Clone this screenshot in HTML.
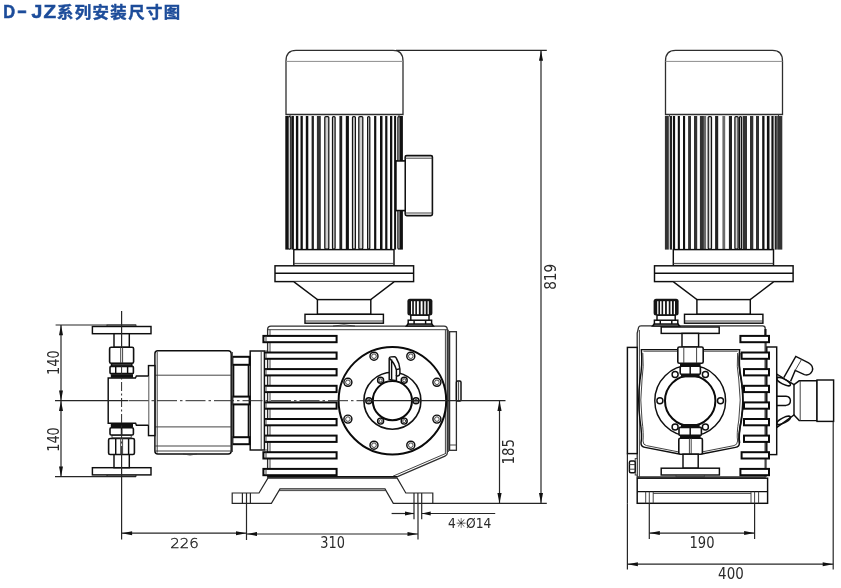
<!DOCTYPE html>
<html lang="zh"><head><meta charset="utf-8"><title>D-JZ系列安装尺寸图</title>
<style>
html,body{margin:0;padding:0;background:#fff;}
body{width:841px;height:588px;overflow:hidden;position:relative;}
svg{position:absolute;left:0;top:0;display:block;}
.t{fill:none;stroke:#0e0e0e;stroke-width:1.45;}
.h{fill:none;stroke:#3a3a3a;stroke-width:0.95;}
.k{fill:none;stroke:#0a0a0a;stroke-width:2;}
.cap{fill:none;stroke:#2e2e2e;stroke-width:1.3;}
.g{fill:none;stroke:#8c8c8c;stroke-width:1;}
.m{fill:none;stroke:#111;stroke-width:1.6;}
.w{fill:#fff;}
.b{fill:#111;stroke:none;}
.d{fill:none;stroke:#262626;stroke-width:1.2;}
.c{fill:none;stroke:#2b2b2b;stroke-width:1;stroke-dasharray:20 3 2.5 3;}
.a{fill:#111;stroke:none;}
.n{font-family:"DejaVu Sans Condensed","DejaVu Sans","Liberation Sans",sans-serif;font-size:15.2px;fill:#2a2a2a;text-anchor:middle;}
.n2{font-family:"DejaVu Sans","Liberation Sans",sans-serif;font-size:14.6px;fill:#2a2a2a;text-anchor:middle;font-weight:200;fill:#1a1a1a;stroke:#1a1a1a;stroke-width:0.35;}
.ti{font-family:"Liberation Sans","Noto Sans CJK SC",sans-serif;font-weight:bold;font-size:16px;fill:#1c4c9a;}
</style></head><body>
<svg width="841" height="588" viewBox="0 0 841 588" style="will-change:transform">
<rect x="0" y="0" width="841" height="588" fill="#fff"/>
<text class="ti" y="18.4" style="stroke:#1c4c9a;stroke-width:0.55px"><tspan x="3.2" style="font-size:18.2px" textLength="11.8" lengthAdjust="spacingAndGlyphs">D</tspan><tspan x="17" y="17.3" style="font-size:18.2px" textLength="10" lengthAdjust="spacingAndGlyphs">-</tspan><tspan x="31.4" y="18.4" style="font-size:18.2px" textLength="10.8" lengthAdjust="spacingAndGlyphs">J</tspan><tspan x="43.6" style="font-size:18.2px" textLength="12.6" lengthAdjust="spacingAndGlyphs">Z</tspan><tspan x="57" y="17.9" style="font-size:16.4px;letter-spacing:1.4px;stroke:#1c4c9a;stroke-width:0.45px">系列安装尺寸图</tspan></text>
<g id="front">
<rect class="t w" x="396.0" y="161.0" width="9.2" height="49.5" />
<rect class="m w" x="405.2" y="155.6" width="27.2" height="60.0" rx="1.5"/>
<line class="h" x1="405.2" y1="158.2" x2="432.4" y2="158.2"/>
<line class="h" x1="405.2" y1="213.0" x2="432.4" y2="213.0"/>
<g transform="translate(0,0)">
<path class="cap w" d="M286,114.5 V61 C286,54.5 289.5,50.4 296,50.4 H393 C399.5,50.4 403,54.5 403,61 V114.5 Z"/>
<line class="g" x1="286.0" y1="61.4" x2="403.0" y2="61.4"/>
<line class="h" x1="290.0" y1="114.5" x2="290.0" y2="116.5"/>
<line class="h" x1="399.0" y1="114.5" x2="399.0" y2="116.5"/>
<rect x="285.3" y="116" width="2.8" height="133.6" fill="#111"/>
<rect x="288.0" y="116.5" width="2.8" height="132.6" rx="1" fill="#cfcfcf" stroke="#141414" stroke-width="1.25"/>
<rect x="291.4" y="116" width="2.5" height="133.6" fill="#111"/>
<rect x="295.9" y="116" width="2.4" height="133.6" fill="#111"/>
<rect x="300.5" y="116" width="2.3" height="133.6" fill="#111"/>
<rect x="305.8" y="116" width="2.5" height="133.6" fill="#111"/>
<rect x="311.6" y="116" width="2.3" height="133.6" fill="#222"/>
<rect x="316.9" y="116" width="3.9" height="133.6" fill="#333"/>
<rect x="324.8" y="116.5" width="4.0" height="132.6" rx="1" fill="#cfcfcf" stroke="#141414" stroke-width="1.25"/>
<rect x="332.5" y="116.5" width="2.6" height="132.6" rx="1" fill="#cfcfcf" stroke="#141414" stroke-width="1.25"/>
<rect x="339.4" y="116" width="2.8" height="133.6" fill="#222"/>
<rect x="345.8" y="116" width="3.1" height="133.6" fill="#111"/>
<rect x="352.5" y="116.5" width="2.9" height="132.6" rx="1" fill="#cfcfcf" stroke="#141414" stroke-width="1.25"/>
<rect x="358.8" y="116.5" width="4.0" height="132.6" rx="1" fill="#cfcfcf" stroke="#141414" stroke-width="1.25"/>
<rect x="367.6" y="116.5" width="2.2" height="132.6" rx="1" fill="#cfcfcf" stroke="#141414" stroke-width="1.25"/>
<rect x="374.1" y="116" width="2.2" height="133.6" fill="#111"/>
<rect x="380.0" y="116" width="2.5" height="133.6" fill="#111"/>
<rect x="385.2" y="116" width="2.2" height="133.6" fill="#111"/>
<rect x="390.0" y="116" width="2.3" height="133.6" fill="#111"/>
<rect x="394.1" y="116" width="2.0" height="133.6" fill="#111"/>
<rect x="397.9" y="116.5" width="2.2" height="132.6" rx="1" fill="#cfcfcf" stroke="#141414" stroke-width="1.25"/>
<rect x="400.0" y="116" width="2.9" height="133.6" fill="#111"/>
<rect class="t w" x="293.8" y="249.6" width="100.2" height="16.0" />
<line class="h" x1="293.8" y1="263.4" x2="394.0" y2="263.4"/>
<rect class="t w" x="275.0" y="265.8" width="138.6" height="15.8" />
<line class="t" x1="275.0" y1="273.2" x2="413.6" y2="273.2"/>
<path class="t w" d="M294,281.8 L317.4,299.6 H370.8 L394,281.8"/>
<rect class="t w" x="317.4" y="299.6" width="53.4" height="14.7" />
<rect class="t w" x="305.0" y="314.3" width="78.4" height="8.9" />
<line class="h" x1="305.0" y1="321.0" x2="383.4" y2="321.0"/>
</g>
<rect class="t w" x="396.0" y="161.0" width="9.2" height="49.5" />
<path class="cap w" d="M267.6,477 V329.5 Q267.6,326.2 271,326.2 H444 Q447.3,326.2 447.3,329.5 V453 Q447.3,455.3 445,456.2 L397,476.8 Z"/>
<line class="h" x1="268.0" y1="329.7" x2="447.3" y2="329.7"/>
<line class="h" x1="270.0" y1="329.7" x2="270.0" y2="477.0"/>
<line class="h" x1="445.4" y1="329.7" x2="445.4" y2="454.0"/>
<path class="h" d="M445.4,453.6 L393,476.2"/>
<line class="m" x1="267.6" y1="476.8" x2="397.0" y2="476.8"/>
<path class="h" d="M333,326 Q344,323.8 355,326"/>
<rect class="cap w" x="449.6" y="331.7" width="6.8" height="118.6" />
<line class="h" x1="449.6" y1="445.0" x2="456.4" y2="445.0"/>
<line class="h" x1="448.4" y1="329.7" x2="448.4" y2="452.0"/>
<rect class="t w" x="456.4" y="381.0" width="4.6" height="20.0" rx="1.2"/>
<line class="h" x1="458.6" y1="381.0" x2="458.6" y2="401.0"/>
<rect class="k w" x="263.4" y="335.9" width="73.2" height="6.3" />
<line class="h" x1="266.0" y1="335.9" x2="266.0" y2="342.2"/>
<rect class="k w" x="263.4" y="352.5" width="73.2" height="6.3" />
<line class="h" x1="266.0" y1="352.5" x2="266.0" y2="358.8"/>
<rect class="k w" x="263.4" y="369.1" width="73.2" height="6.3" />
<line class="h" x1="266.0" y1="369.1" x2="266.0" y2="375.4"/>
<rect class="k w" x="263.4" y="385.8" width="73.2" height="6.3" />
<line class="h" x1="266.0" y1="385.8" x2="266.0" y2="392.1"/>
<rect class="k w" x="263.4" y="402.4" width="73.2" height="6.3" />
<line class="h" x1="266.0" y1="402.4" x2="266.0" y2="408.7"/>
<rect class="k w" x="263.4" y="419.0" width="73.2" height="6.3" />
<line class="h" x1="266.0" y1="419.0" x2="266.0" y2="425.3"/>
<rect class="k w" x="263.4" y="435.6" width="73.2" height="6.3" />
<line class="h" x1="266.0" y1="435.6" x2="266.0" y2="441.9"/>
<rect class="k w" x="263.4" y="452.2" width="73.2" height="6.3" />
<line class="h" x1="266.0" y1="452.2" x2="266.0" y2="458.5"/>
<rect class="k w" x="263.4" y="468.9" width="73.2" height="6.3" />
<line class="h" x1="266.0" y1="468.9" x2="266.0" y2="475.2"/>
<circle class="k w" cx="392.4" cy="400.7" r="53.8"/>
<circle class="m" cx="392.4" cy="400.7" r="28.5"/>
<circle class="k" cx="392.4" cy="400.7" r="19.6"/>
<circle class="t" cx="436.9" cy="419.1" r="4.0"/>
<circle class="h" cx="436.9" cy="419.1" r="2.3"/>
<circle class="t" cx="410.8" cy="445.2" r="4.0"/>
<circle class="h" cx="410.8" cy="445.2" r="2.3"/>
<circle class="t" cx="374.0" cy="445.2" r="4.0"/>
<circle class="h" cx="374.0" cy="445.2" r="2.3"/>
<circle class="t" cx="347.9" cy="419.1" r="4.0"/>
<circle class="h" cx="347.9" cy="419.1" r="2.3"/>
<circle class="t" cx="347.9" cy="382.3" r="4.0"/>
<circle class="h" cx="347.9" cy="382.3" r="2.3"/>
<circle class="t" cx="374.0" cy="356.2" r="4.0"/>
<circle class="h" cx="374.0" cy="356.2" r="2.3"/>
<circle class="t" cx="410.8" cy="356.2" r="4.0"/>
<circle class="h" cx="410.8" cy="356.2" r="2.3"/>
<circle class="t" cx="436.9" cy="382.3" r="4.0"/>
<circle class="h" cx="436.9" cy="382.3" r="2.3"/>
<circle class="t" cx="416.0" cy="400.7" r="3.0"/>
<circle class="h" cx="416.0" cy="400.7" r="1.5"/>
<circle class="t" cx="404.2" cy="421.1" r="3.0"/>
<circle class="h" cx="404.2" cy="421.1" r="1.5"/>
<circle class="t" cx="380.6" cy="421.1" r="3.0"/>
<circle class="h" cx="380.6" cy="421.1" r="1.5"/>
<circle class="t" cx="368.8" cy="400.7" r="3.0"/>
<circle class="h" cx="368.8" cy="400.7" r="1.5"/>
<circle class="t" cx="380.6" cy="380.3" r="3.0"/>
<circle class="h" cx="380.6" cy="380.3" r="1.5"/>
<circle class="t" cx="404.2" cy="380.3" r="3.0"/>
<circle class="h" cx="404.2" cy="380.3" r="1.5"/>
<path class="t w" d="M389.2,379.4 V358.4 Q389.4,357 391,356.9 L394.6,356.8 Q395.6,356.9 396.2,358 Q399.6,363.5 399.9,369 V373.6 Q399.6,375.8 397.6,376 L396.4,375.8 V380.6 L389.2,379.4 Z"/>
<path class="t" d="M391.6,359.5 V379.6 M389.8,358.6 Q394.6,363 396.4,370 V375.8 M396.4,369.6 L399.8,368.8"/>
<path class="t w" d="M406.4,326 L408.2,323.8 H431.6 L433.4,326 Z"/>
<rect class="t w" x="408.2" y="320.2" width="23.4" height="3.8" />
<line class="t" x1="414.1" y1="320.2" x2="414.1" y2="324.0"/>
<line class="t" x1="425.6" y1="320.2" x2="425.6" y2="324.0"/>
<rect class="t w" x="410.8" y="315.2" width="18.2" height="5.0" />
<rect x="407.4" y="298.8" width="25" height="16.6" rx="2.5" fill="#151515"/>
<rect x="411.00" y="301.2" width="1.2" height="13" fill="#fff"/>
<rect x="413.85" y="301.2" width="1.5" height="13" fill="#fff"/>
<rect x="416.95" y="301.2" width="1.9" height="13" fill="#fff"/>
<rect x="420.65" y="301.2" width="1.9" height="13" fill="#fff"/>
<rect x="424.25" y="301.2" width="1.5" height="13" fill="#fff"/>
<rect x="427.60" y="301.2" width="1.2" height="13" fill="#fff"/>
<path class="d w" d="M232.2,493 H259 L267.9,478.2 H397.2 L405.8,493 H432.8 V503.3 H393.3 L385,488.9 H280 L271.4,503.3 H232.2 Z"/>
<path class="h" d="M279,490.6 H386"/>
<line class="d" x1="242.4" y1="493.0" x2="242.4" y2="503.3"/>
<line class="d" x1="246.5" y1="493.0" x2="246.5" y2="503.3"/>
<line class="d" x1="250.4" y1="493.0" x2="250.4" y2="503.3"/>
<line class="d" x1="414.0" y1="493.0" x2="414.0" y2="503.3"/>
<line class="d" x1="417.9" y1="493.0" x2="417.9" y2="503.3"/>
<line class="d" x1="421.7" y1="493.0" x2="421.7" y2="503.3"/>
<rect class="t w" x="250.2" y="351.0" width="14.2" height="99.0" />
<line class="h" x1="261.2" y1="351.0" x2="261.2" y2="450.0"/>
<line class="h" x1="264.4" y1="351.0" x2="267.6" y2="351.0"/>
<line class="h" x1="264.4" y1="450.0" x2="267.6" y2="450.0"/>
<rect class="k w" x="232.4" y="356.8" width="17.2" height="8.0" />
<rect class="k w" x="232.4" y="437.2" width="17.2" height="7.0" />
<line class="t" x1="233.6" y1="364.8" x2="233.6" y2="437.2"/>
<line class="t" x1="248.4" y1="364.8" x2="248.4" y2="437.2"/>
<rect class="k w" x="232.4" y="396.6" width="17.2" height="7.8" />
<rect class="t w" x="154.9" y="350.7" width="76.3" height="103.3" rx="3"/>
<line class="h" x1="157.2" y1="352.0" x2="157.2" y2="452.6"/>
<line class="h" x1="232.4" y1="352.0" x2="232.4" y2="452.0"/>
<line class="h" x1="154.9" y1="375.2" x2="231.2" y2="375.2"/>
<line class="h" x1="154.9" y1="426.9" x2="231.2" y2="426.9"/>
<line class="h" x1="154.9" y1="446.0" x2="231.2" y2="446.0"/>
<line class="h" x1="154.9" y1="451.0" x2="231.2" y2="451.0"/>
<path class="h" d="M183,454 Q190,456 197,454"/>
<rect class="t w" x="148.5" y="365.6" width="6.4" height="70.0" />
<path class="t w" d="M148.5,375.9 H136.4 L135.4,378 H108.2 V423.3 H135.6 L136.4,425.3 H148.5"/>
<rect class="h w" x="107.0" y="325.0" width="29.0" height="1.6" />
<rect class="t w" x="92.4" y="326.5" width="58.6" height="7.2" />
<rect class="t w" x="114.0" y="333.7" width="15.3" height="13.6" />
<rect class="m w" x="109.6" y="347.3" width="24.0" height="16.0" rx="1.5"/>
<line class="h" x1="120.7" y1="347.3" x2="120.7" y2="363.3"/>
<line class="h" x1="122.6" y1="347.3" x2="122.6" y2="363.3"/>
<rect class="t" x="111.5" y="363.6" width="20.3" height="2.6" />
<line class="t" x1="111.5" y1="365.0" x2="131.8" y2="365.0"/>
<rect class="m w" x="110.0" y="366.4" width="23.4" height="7.2" rx="1.2"/>
<line class="t" x1="115.7" y1="366.4" x2="115.7" y2="373.6"/>
<line class="t" x1="127.6" y1="366.4" x2="127.6" y2="373.6"/>
<rect class="b" x="110.8" y="374.2" width="22.2" height="3.6" />
<rect class="h w" x="107.0" y="474.8" width="29.0" height="1.6" />
<rect class="t w" x="92.4" y="467.7" width="58.6" height="7.2" />
<rect class="t w" x="114.0" y="454.1" width="15.3" height="13.6" />
<rect class="m w" x="108.6" y="438.5" width="25.8" height="16.0" rx="1.5"/>
<line class="t" x1="115.7" y1="454.1" x2="115.7" y2="438.1"/>
<line class="t" x1="128.6" y1="454.1" x2="128.6" y2="438.1"/>
<line class="h" x1="120.7" y1="454.1" x2="120.7" y2="438.1"/>
<line class="h" x1="122.6" y1="454.1" x2="122.6" y2="438.1"/>
<rect class="h" x="112.0" y="435.2" width="19.2" height="2.6" />
<rect class="m w" x="110.0" y="427.8" width="23.4" height="7.2" rx="1.2"/>
<line class="m" x1="121.6" y1="435.0" x2="121.6" y2="427.8"/>
<rect class="b" x="110.8" y="423.6" width="22.2" height="3.6" />
</g>
<g id="dimsF">
<line class="d" x1="121.6" y1="311.0" x2="121.6" y2="347.0"/>
<line class="c" style="stroke-dasharray:9 2.5 2 2.5" x1="121.6" y1="366" x2="121.6" y2="455"/>
<line class="d" x1="121.6" y1="455.0" x2="121.6" y2="539.4"/>
<line class="d" x1="55.0" y1="400.7" x2="128.0" y2="400.7"/>
<line class="c" x1="128.5" y1="400.7" x2="368" y2="400.7"/>
<line class="d" x1="368.0" y1="400.7" x2="505.5" y2="400.7"/>
<line class="d" x1="55.6" y1="325.0" x2="136.0" y2="325.0"/>
<line class="d" x1="55.0" y1="476.7" x2="136.0" y2="476.7"/>
<line class="d" x1="61.0" y1="325.0" x2="61.0" y2="476.7"/>
<polygon class="a" points="61.0,325.0 59.0,335.3 63.0,335.3"/>
<polygon class="a" points="61.0,400.7 59.0,390.4 63.0,390.4"/>
<polygon class="a" points="61.0,400.7 59.0,411.0 63.0,411.0"/>
<polygon class="a" points="61.0,476.7 59.0,466.4 63.0,466.4"/>
<text class="n" transform="translate(58.5,362.6) rotate(-90)" textLength="24.6" lengthAdjust="spacingAndGlyphs">140</text>
<text class="n" transform="translate(58.5,439.5) rotate(-90)" textLength="24.6" lengthAdjust="spacingAndGlyphs">140</text>
<line class="d" x1="246.5" y1="503.3" x2="246.5" y2="540.0"/>
<line class="d" x1="121.6" y1="533.2" x2="246.5" y2="533.2"/>
<polygon class="a" points="121.8,533.2 132.1,531.2 132.1,535.2"/>
<polygon class="a" points="246.3,533.2 236.0,531.2 236.0,535.2"/>
<text class="n2" x="184.5" y="547.6" textLength="28.6" lengthAdjust="spacingAndGlyphs">226</text>
<line class="d" x1="418.0" y1="503.3" x2="418.0" y2="539.4"/>
<line class="d" x1="246.5" y1="534.0" x2="418.0" y2="534.0"/>
<polygon class="a" points="246.7,534.0 257.0,532.0 257.0,536.0"/>
<polygon class="a" points="417.8,534.0 407.5,532.0 407.5,536.0"/>
<text class="n" x="332.6" y="548.4" textLength="24.6" lengthAdjust="spacingAndGlyphs">310</text>
<line class="d" x1="414.0" y1="503.3" x2="414.0" y2="519.3"/>
<line class="d" x1="421.7" y1="503.3" x2="421.7" y2="519.3"/>
<line class="d" x1="391.6" y1="513.5" x2="414.0" y2="513.5"/>
<line class="d" x1="421.7" y1="513.5" x2="495.2" y2="513.5"/>
<polygon class="a" points="414.0,513.5 405.0,511.6 405.0,515.4"/>
<polygon class="a" points="421.7,513.5 430.7,511.6 430.7,515.4"/>
<text class="n" x="469.7" y="527.8" style="font-size:13.6px" textLength="43.4" lengthAdjust="spacingAndGlyphs">4✳Ø14</text>
<line class="d" x1="432.8" y1="503.3" x2="546.8" y2="503.3"/>
<line class="d" x1="499.5" y1="400.7" x2="499.5" y2="503.3"/>
<polygon class="a" points="499.5,400.7 497.4,411.0 501.6,411.0"/>
<polygon class="a" points="499.5,503.3 497.4,493.0 501.6,493.0"/>
<text class="n" transform="translate(514.4,451.7) rotate(-90)" textLength="25.6" lengthAdjust="spacingAndGlyphs">185</text>
<line class="d" x1="396.0" y1="50.4" x2="546.8" y2="50.4"/>
<line class="d" x1="541.0" y1="50.4" x2="541.0" y2="503.3"/>
<polygon class="a" points="541.0,50.4 539.0,60.7 543.0,60.7"/>
<polygon class="a" points="541.0,503.3 539.0,493.0 543.0,493.0"/>
<text class="n" transform="translate(555.7,276.8) rotate(-90)" textLength="26" lengthAdjust="spacingAndGlyphs">819</text>
</g>
<g id="side">
<g transform="translate(379.5,0)">
<path class="cap w" d="M286,114.5 V61 C286,54.5 289.5,50.4 296,50.4 H393 C399.5,50.4 403,54.5 403,61 V114.5 Z"/>
<line class="g" x1="286.0" y1="61.4" x2="403.0" y2="61.4"/>
<line class="h" x1="290.0" y1="114.5" x2="290.0" y2="116.5"/>
<line class="h" x1="399.0" y1="114.5" x2="399.0" y2="116.5"/>
<rect x="285.4" y="116" width="3.9" height="133.6" fill="#333"/>
<rect x="290.2" y="116" width="2.4" height="133.6" fill="#222"/>
<rect x="293.5" y="116" width="2.1" height="133.6" fill="#111"/>
<rect x="298.3" y="116" width="2.1" height="133.6" fill="#111"/>
<rect x="303.5" y="116" width="2.1" height="133.6" fill="#111"/>
<rect x="308.6" y="116" width="2.9" height="133.6" fill="#333"/>
<rect x="314.5" y="116" width="3.2" height="133.6" fill="#333"/>
<rect x="320.4" y="116" width="4.3" height="133.6" fill="#333"/>
<rect x="324.1" y="116" width="2.5" height="133.6" fill="#6a6a6a"/>
<rect x="328.7" y="116.5" width="3.3" height="132.6" rx="1" fill="#cfcfcf" stroke="#141414" stroke-width="1.25"/>
<rect x="335.6" y="116" width="3.1" height="133.6" fill="#222"/>
<rect x="342.9" y="116" width="2.8" height="133.6" fill="#6a6a6a"/>
<rect x="349.4" y="116" width="3.1" height="133.6" fill="#222"/>
<rect x="355.4" y="116.5" width="3.2" height="132.6" rx="1" fill="#cfcfcf" stroke="#141414" stroke-width="1.25"/>
<rect x="359.9" y="116.5" width="2.1" height="132.6" rx="1" fill="#cfcfcf" stroke="#141414" stroke-width="1.25"/>
<rect x="363.2" y="116" width="4.3" height="133.6" fill="#333"/>
<rect x="370.5" y="116" width="3.3" height="133.6" fill="#333"/>
<rect x="376.5" y="116" width="3.0" height="133.6" fill="#333"/>
<rect x="382.7" y="116" width="2.3" height="133.6" fill="#111"/>
<rect x="387.4" y="116" width="2.6" height="133.6" fill="#111"/>
<rect x="391.9" y="116" width="2.2" height="133.6" fill="#111"/>
<rect x="395.2" y="116" width="2.1" height="133.6" fill="#222"/>
<rect x="397.7" y="116" width="5.1" height="133.6" fill="#333"/>
<rect class="t w" x="293.8" y="249.6" width="100.2" height="16.0" />
<line class="h" x1="293.8" y1="263.4" x2="394.0" y2="263.4"/>
<rect class="t w" x="275.0" y="265.8" width="138.6" height="15.8" />
<line class="t" x1="275.0" y1="273.2" x2="413.6" y2="273.2"/>
<path class="t w" d="M294,281.8 L317.4,299.6 H370.8 L394,281.8"/>
<rect class="t w" x="317.4" y="299.6" width="53.4" height="14.7" />
<rect class="t w" x="305.0" y="314.3" width="78.4" height="8.9" />
<line class="h" x1="305.0" y1="321.0" x2="383.4" y2="321.0"/>
</g>
<path class="t w" d="M776.7,374 L794,384.6 L799.2,380.8 H817 V420.6 H799.2 L794,415 L776.7,427.6 Z"/>
<line class="h" x1="800.2" y1="380.8" x2="800.2" y2="420.6"/>
<line class="t" x1="794.0" y1="384.6" x2="794.0" y2="415.0"/>
<rect class="t w" x="817.0" y="380.0" width="16.6" height="41.4" />
<path class="t" d="M776.7,396.2 H786 Q790.4,396.6 790.4,400.8 Q790.4,405 786,405.4 H776.7"/>
<ellipse class="t" cx="783.6" cy="381.6" rx="7.6" ry="2.6" transform="rotate(27 783.6 381.6)"/>
<ellipse class="t" cx="783.6" cy="420.4" rx="7.6" ry="2.6" transform="rotate(-27 783.6 420.4)"/>
<path class="t w" d="M783.8,377.6 L795.8,356.4 L808.6,362.8 Q814,366 812.2,371 Q809.6,376 804.4,374.6 L795.2,370.4 L790.6,381.4"/>
<path class="h" d="M801.6,359.4 L795.2,370.4"/>
<path class="cap w" d="M637.2,477 V333 L638.6,327.4 Q639,325.8 641,325.8 H762.6 Q765.2,325.8 765.2,328.4 V477 Z"/>
<line class="h" x1="766.2" y1="329.0" x2="766.2" y2="477.0"/>
<line class="h" x1="639.4" y1="330.0" x2="639.4" y2="477.0"/>
<rect class="t w" x="627.4" y="347.4" width="9.8" height="106.2" />
<line class="d" x1="627.4" y1="453.6" x2="627.4" y2="503.3"/>
<rect class="h w" x="635.2" y="458.6" width="2.0" height="16.4" />
<rect class="t w" x="629.4" y="461.0" width="5.8" height="11.8" rx="1.5"/>
<line class="h" x1="629.4" y1="464.6" x2="635.2" y2="464.6"/>
<line class="h" x1="629.4" y1="469.2" x2="635.2" y2="469.2"/>
<path class="t" d="M641.4,349.6 H739.6 Q738,365 741.2,380 Q744.4,400 741.2,420 Q738,436 739.4,443 Q739.4,446.8 735.5,447.4 L703,453.8 H678 L645,447.4 Q641,446.8 641,443 Q642.4,436 640,420 Q637.4,400 640,380 Q642.6,365 641.4,349.6 Z"/>
<path class="h" d="M643.4,351.2 H737.6"/>
<path class="h" d="M642.8,353 Q644,366 642,380 Q639.6,400 642,420 Q643.8,434 643,441 Q643,445 646.5,445.6 L678,451.8 M702.6,451.8 L734,445.6 Q737.4,445 737.6,441 Q736.4,434 738.8,420 Q741.6,400 738.8,380 Q736.4,366 737.6,353"/>
<path class="m" d="M739.8,353 Q738.2,365 741.4,380 Q744.6,400 741.4,420 Q738.2,436 739.6,443"/>
<rect class="t w" x="766.8" y="347.0" width="9.9" height="107.6" />
<rect class="k w" x="740.4" y="335.9" width="28.6" height="6.3" />
<rect class="k w" x="741.6" y="352.5" width="27.4" height="6.3" />
<rect class="k w" x="744.0" y="369.1" width="25.0" height="6.3" />
<rect class="k w" x="744.0" y="385.8" width="25.0" height="6.3" />
<rect class="k w" x="744.0" y="402.4" width="25.0" height="6.3" />
<rect class="k w" x="744.0" y="419.0" width="25.0" height="6.3" />
<rect class="k w" x="744.0" y="435.6" width="25.0" height="6.3" />
<rect class="k w" x="741.6" y="452.2" width="27.4" height="6.3" />
<rect class="k w" x="740.4" y="468.9" width="28.6" height="6.3" />
<line class="t" x1="765.2" y1="329.0" x2="765.2" y2="335.5"/>
<rect class="t w" x="661.2" y="327.0" width="58.0" height="6.4" />
<rect class="t w" x="682.0" y="333.4" width="16.6" height="13.6" />
<rect class="m w" x="677.8" y="347.0" width="25.4" height="16.2" rx="1.5"/>
<line class="h" x1="683.8" y1="347.0" x2="683.8" y2="363.2"/>
<line class="h" x1="696.6" y1="347.0" x2="696.6" y2="363.2"/>
<rect class="b" x="680.0" y="363.2" width="20.6" height="3.0" />
<circle class="t w" cx="690.2" cy="400.7" r="35.4"/>
<circle class="k" cx="690.2" cy="400.7" r="25.2"/>
<circle class="t w" cx="720.5" cy="400.7" r="3.0"/>
<circle class="t w" cx="705.4" cy="426.9" r="3.0"/>
<circle class="t w" cx="675.1" cy="426.9" r="3.0"/>
<circle class="t w" cx="659.9" cy="400.7" r="3.0"/>
<circle class="t w" cx="675.1" cy="374.5" r="3.0"/>
<circle class="t w" cx="705.4" cy="374.5" r="3.0"/>
<rect class="m w" x="680.2" y="366.2" width="20.2" height="8.0" rx="1.2"/>
<line class="t" x1="690.2" y1="366.2" x2="690.2" y2="374.2"/>
<rect class="b" x="681.0" y="374.2" width="18.6" height="3.2" />
<rect class="b" x="681.0" y="424.0" width="18.6" height="3.4" />
<rect class="m w" x="679.0" y="427.4" width="22.4" height="8.0" rx="1.2"/>
<line class="t" x1="690.2" y1="427.4" x2="690.2" y2="435.4"/>
<rect class="b" x="680.0" y="435.4" width="20.6" height="2.8" />
<rect class="m w" x="678.8" y="438.2" width="23.6" height="16.0" rx="1.5"/>
<line class="h" x1="689.4" y1="438.2" x2="689.4" y2="454.2"/>
<line class="h" x1="691.2" y1="438.2" x2="691.2" y2="454.2"/>
<rect class="t w" x="683.0" y="454.2" width="15.2" height="14.0" />
<rect class="t w" x="661.2" y="468.2" width="58.2" height="6.8" />
<path class="h" d="M676,475 V476.8 H704.4 V475"/>
<rect class="t w" x="637.2" y="478.2" width="130.4" height="25.1" />
<line class="t" x1="637.2" y1="491.6" x2="767.6" y2="491.6"/>
<line class="h" x1="653.2" y1="493.4" x2="751.0" y2="493.4"/>
<line class="h" x1="645.7" y1="491.6" x2="645.7" y2="503.3"/>
<line class="h" x1="649.3" y1="491.6" x2="649.3" y2="503.3"/>
<line class="h" x1="653.2" y1="491.6" x2="653.2" y2="503.3"/>
<line class="h" x1="751.0" y1="491.6" x2="751.0" y2="503.3"/>
<line class="h" x1="754.6" y1="491.6" x2="754.6" y2="503.3"/>
<line class="h" x1="758.6" y1="491.6" x2="758.6" y2="503.3"/>
<g transform="translate(246.2,0)">
<path class="t w" d="M406.4,326 L408.2,323.8 H431.6 L433.4,326 Z"/>
<rect class="t w" x="408.2" y="320.2" width="23.4" height="3.8" />
<line class="t" x1="414.1" y1="320.2" x2="414.1" y2="324.0"/>
<line class="t" x1="425.6" y1="320.2" x2="425.6" y2="324.0"/>
<rect class="t w" x="410.8" y="315.2" width="18.2" height="5.0" />
<rect x="407.4" y="298.8" width="25" height="16.6" rx="2.5" fill="#151515"/>
<rect x="411.00" y="301.2" width="1.2" height="13" fill="#fff"/>
<rect x="413.85" y="301.2" width="1.5" height="13" fill="#fff"/>
<rect x="416.95" y="301.2" width="1.9" height="13" fill="#fff"/>
<rect x="420.65" y="301.2" width="1.9" height="13" fill="#fff"/>
<rect x="424.25" y="301.2" width="1.5" height="13" fill="#fff"/>
<rect x="427.60" y="301.2" width="1.2" height="13" fill="#fff"/>
</g>
</g>
<g id="dimsS">
<line class="d" x1="649.3" y1="503.3" x2="649.3" y2="539.0"/>
<line class="d" x1="754.6" y1="503.3" x2="754.6" y2="539.0"/>
<line class="d" x1="649.3" y1="533.1" x2="754.6" y2="533.1"/>
<polygon class="a" points="649.5,533.1 659.8,531.1 659.8,535.1"/>
<polygon class="a" points="754.4,533.1 744.1,531.1 744.1,535.1"/>
<text class="n" x="702" y="547.8" textLength="25" lengthAdjust="spacingAndGlyphs">190</text>
<line class="d" x1="627.4" y1="503.3" x2="627.4" y2="569.6"/>
<line class="d" x1="833.2" y1="421.4" x2="833.2" y2="569.6"/>
<line class="d" x1="627.4" y1="564.2" x2="833.2" y2="564.2"/>
<polygon class="a" points="627.6,564.2 637.9,562.2 637.9,566.2"/>
<polygon class="a" points="833.0,564.2 822.7,562.2 822.7,566.2"/>
<text class="n" x="730.9" y="578.7" textLength="25.6" lengthAdjust="spacingAndGlyphs">400</text>
</g>
</svg>
</body></html>
